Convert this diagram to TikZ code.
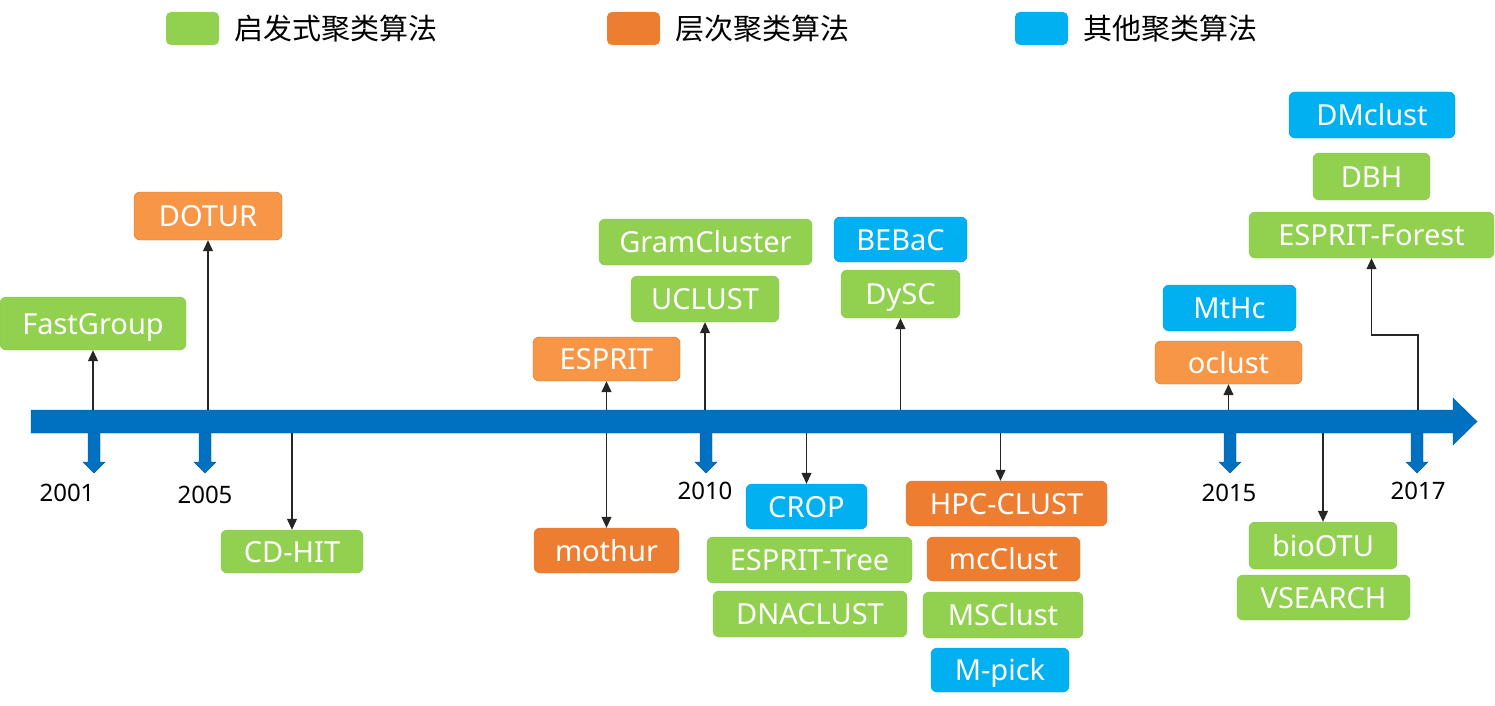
\documentclass[tikz,border=0pt]{standalone}
\usepackage{fontspec}
\setmainfont{Noto Sans}
\newfontfamily\cjk{Noto Sans CJK SC}
\usepackage{tikz}
\usetikzlibrary{positioning,arrows.meta}

\definecolor{heurgreen}{HTML}{92D050}
\definecolor{hierorange}{HTML}{ED7D31}
\definecolor{lightorange}{HTML}{F79646}
\definecolor{otherblue}{HTML}{00B0F0}
\definecolor{axisblue}{HTML}{0070C0}

\tikzstyle{algbox} = [rectangle, rounded corners=6pt, inner sep=0pt, text=white, font=\fontsize{29}{30}\selectfont, text height=21pt, text depth=0pt]
\tikzstyle{heurbox} = [algbox, fill=heurgreen, draw=heurgreen!95!black, thin]
\tikzstyle{hierbox} = [algbox, fill=hierorange, draw=hierorange!95!black, thin]
\tikzstyle{hierlight} = [algbox, fill=lightorange, draw=hierorange!90!black, thin]
\tikzstyle{otherbox} = [algbox, fill=otherblue, draw=otherblue!90!black, thin]
\tikzstyle{legendkey} = [rectangle, rounded corners=5pt, minimum width=53pt, minimum height=33pt, inner sep=0pt]
\tikzstyle{legendtext} = [inner sep=0pt, font=\cjk\fontsize{29}{30}\selectfont]
\tikzstyle{yearlabel} = [inner sep=0pt, font=\fontsize{24}{26}\selectfont]
\tikzstyle{yeararrow} = [fill=axisblue, draw=axisblue!85!black, thin]
\tikzstyle{conn} = [-{Triangle[length=11pt,width=10pt]}, line width=1.1pt, black!85]

\begin{document}
\begin{tikzpicture}[x=1pt, y=-1pt]
\useasboundingbox (0,0) rectangle (1495,706);

% legend
\node [legendkey, fill=heurgreen] (keyheur) at (192.5,28.5) {};
\node [legendtext, right=15pt of keyheur] (txtheur) {启发式聚类算法};
\node [legendkey, fill=hierorange] (keyhier) at (633.5,28.5) {};
\node [legendtext, right=15pt of keyhier] (txthier) {层次聚类算法};
\node [legendkey, fill=otherblue] (keyother) at (1041.5,28.5) {};
\node [legendtext, right=15pt of keyother] (txtother) {其他聚类算法};

% year ticks
\filldraw [yeararrow] (94,430) ++(-6,0) -- ++(0,32) -- ++(-5,0) -- ++(11,11) -- ++(11,-11) -- ++(-5,0) -- ++(0,-32) -- cycle;
\filldraw [yeararrow] (205,430) ++(-6,0) -- ++(0,32) -- ++(-5,0) -- ++(11,11) -- ++(11,-11) -- ++(-5,0) -- ++(0,-32) -- cycle;
\filldraw [yeararrow] (706,430) ++(-6,0) -- ++(0,32) -- ++(-5,0) -- ++(11,11) -- ++(11,-11) -- ++(-5,0) -- ++(0,-32) -- cycle;
\filldraw [yeararrow] (1230,430) ++(-6,0) -- ++(0,32) -- ++(-5,0) -- ++(11,11) -- ++(11,-11) -- ++(-5,0) -- ++(0,-32) -- cycle;
\filldraw [yeararrow] (1417,430) ++(-6,0) -- ++(0,32) -- ++(-5,0) -- ++(11,11) -- ++(11,-11) -- ++(-5,0) -- ++(0,-32) -- cycle;
\node [yearlabel] (y2001) at (67,493) {2001};
\node [yearlabel] (y2005) at (205,495) {2005};
\node [yearlabel] (y2010) at (705,491) {2010};
\node [yearlabel] (y2015) at (1229,493) {2015};
\node [yearlabel] (y2017) at (1418,491) {2017};

% time axis
\filldraw [fill=axisblue, draw=axisblue!85!black, thin] (31,410) -- (1453,410) -- (1453,398) -- (1477,421.5) -- (1453,445) -- (1453,433) -- (31,433) -- cycle;
\coordinate (axtop) at (0,410);
\coordinate (axbot) at (0,433);
\coordinate (bend) at (1418,335);

% algorithms above the axis
\node [heurbox, minimum width=186pt, minimum height=53pt] (fastgroup) at (93,323.5) {FastGroup};
\node [hierlight, minimum width=148pt, minimum height=48pt] (dotur) at (208,216) {DOTUR};
\node [heurbox, minimum width=213pt, minimum height=46pt] (gramcluster) at (705.5,242) {GramCluster};
\node [heurbox, minimum width=148pt, minimum height=46pt] (uclust) at (705,299) {UCLUST};
\node [hierlight, minimum width=147pt, minimum height=44pt] (esprit) at (606.5,359) {ESPRIT};
\node [otherbox, minimum width=133pt, minimum height=45pt] (bebac) at (900.5,239.5) {BEBaC};
\node [heurbox, minimum width=119pt, minimum height=48pt] (dysc) at (900.5,294) {DySC};
\node [otherbox, minimum width=133pt, minimum height=46pt] (mthc) at (1229.5,308) {MtHc};
\node [hierlight, minimum width=147pt, minimum height=43pt] (oclust) at (1228.5,362.5) {oclust};
\node [otherbox, minimum width=166pt, minimum height=46pt] (dmclust) at (1372,115) {DMclust};
\node [heurbox, minimum width=117pt, minimum height=47pt] (dbh) at (1371.5,176.5) {DBH};
\node [heurbox, minimum width=245pt, minimum height=46pt] (forest) at (1371.5,235) {ESPRIT-Forest};

% algorithms below the axis
\node [heurbox, minimum width=142pt, minimum height=43pt] (cdhit) at (292,551.5) {CD-HIT};
\node [hierbox, minimum width=145pt, minimum height=45pt] (mothur) at (606.5,550.5) {mothur};
\node [otherbox, minimum width=121pt, minimum height=45pt] (crop) at (806.5,506.5) {CROP};
\node [heurbox, minimum width=205pt, minimum height=46pt] (esprittree) at (809.5,560) {ESPRIT-Tree};
\node [heurbox, minimum width=194pt, minimum height=46pt] (dnaclust) at (810,614) {DNACLUST};
\node [hierbox, minimum width=201pt, minimum height=45pt] (hpcclust) at (1006.5,503.5) {HPC-CLUST};
\node [hierbox, minimum width=153pt, minimum height=44pt] (mcclust) at (1003.5,559) {mcClust};
\node [heurbox, minimum width=160pt, minimum height=46pt] (msclust) at (1003,615) {MSClust};
\node [otherbox, minimum width=138pt, minimum height=44pt] (mpick) at (1000,670) {M-pick};
\node [heurbox, minimum width=148pt, minimum height=47pt] (biootu) at (1323,545.5) {bioOTU};
\node [heurbox, minimum width=173pt, minimum height=45pt] (vsearch) at (1323.5,597.5) {VSEARCH};

% connectors
\draw [conn] (axtop -| fastgroup) -- (fastgroup);
\draw [conn] (axtop -| dotur) -- (dotur);
\draw [conn] (axtop -| esprit) -- (esprit);
\draw [conn] (axtop -| uclust) -- (uclust);
\draw [conn] (axtop -| dysc) -- (dysc);
\draw [conn] (axtop -| oclust) -- (oclust);
\draw [conn] (axtop -| bend) -- (bend) -| (forest.south);
\draw [conn] (axbot -| cdhit) -- (cdhit);
\draw [conn] (axbot -| mothur) -- (mothur);
\draw [conn] (axbot -| crop) -- (crop);
\draw [conn] ([xshift=-6pt]axbot -| hpcclust) -- ([xshift=-6pt]hpcclust.north);
\draw [conn] (axbot -| biootu) -- (biootu);
\end{tikzpicture}
\end{document}
